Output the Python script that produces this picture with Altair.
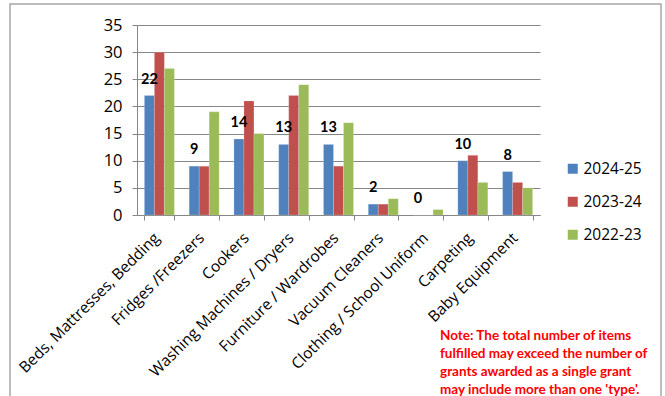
import altair as alt
import pandas as pd

categories = [
    "Beds, Mattresses, Bedding",
    "Fridges /Freezers",
    "Cookers",
    "Washing Machines / Dryers",
    "Furniture / Wardrobes",
    "Vacuum Cleaners",
    "Clothing / School Uniform",
    "Carpeting",
    "Baby Equipment",
]
years = ["2024-25", "2023-24", "2022-23"]
values_2024_25 = [22, 9, 14, 13, 13, 2, 0, 10, 8]
values_2023_24 = [30, 9, 21, 22, 9, 2, 0, 11, 6]
values_2022_23 = [27, 19, 15, 24, 17, 3, 1, 6, 5]
y_ticks = [0, 5, 10, 15, 20, 25, 30, 35]
colors = ["#4F81BD", "#C0504D", "#9BBB59"]
note_lines = [
    "Note: The total number of items",
    "fulfilled may exceed the number of",
    "grants awarded as a single grant",
    "may include more than one 'type'.",
]

FONT = "Open Sans"
BOLD_FONT = "Lato"

rows = []
for yr, vals in zip(years, [values_2024_25, values_2023_24, values_2022_23]):
    for cat, v in zip(categories, vals):
        rows.append({"Category": cat, "Year": yr, "Count": v})
df = pd.DataFrame(rows)

x_enc = alt.X(
    "Category:N",
    sort=categories,
    scale=alt.Scale(paddingInner=0.33, paddingOuter=0.165),
    axis=alt.Axis(
        title=None,
        labelAngle=-45,
        labelAlign="right",
        labelBaseline="top",
        labelFont=FONT,
        labelFontSize=15.5,
        labelColor="#000000",
        labelPadding=10,
        labelOffset=-8,
        labelLimit=0,
        labelOverlap=False,
        tickBand="extent",
        tickSize=5,
        tickColor="#868686",
        domainColor="#868686",
        grid=False,
    ),
)
y_enc = alt.Y(
    "Count:Q",
    scale=alt.Scale(domain=[0, 35]),
    axis=alt.Axis(
        title=None,
        values=y_ticks,
        labelOverlap=False,
        labelFont=FONT,
        labelFontSize=16.5,
        labelColor="#000000",
        labelPadding=10,
        tickSize=5,
        tickColor="#868686",
        domainColor="#868686",
        gridColor="#868686",
    ),
)
color_enc = alt.Color(
    "Year:N",
    sort=years,
    scale=alt.Scale(domain=years, range=colors),
    legend=alt.Legend(
        title=None,
        orient="none",
        legendX=428,
        legendY=136,
        symbolType="square",
        symbolSize=100,
        symbolStrokeWidth=0,
        labelFont=FONT,
        labelFontSize=15.5,
        labelColor="#000000",
        rowPadding=16,
        labelOffset=3,
    ),
)

bars = alt.Chart(df).mark_bar(stroke="#ffffff", strokeOpacity=0.35, strokeWidth=0.5).encode(
    x=x_enc,
    xOffset=alt.XOffset("Year:N", sort=years),
    y=y_enc,
    color=color_enc,
)

labels = (
    alt.Chart(df)
    .transform_filter(alt.datum.Year == "2024-25")
    .mark_text(font=BOLD_FONT, fontSize=14.5, fontWeight="bold", color="#000000", dy=-16)
    .encode(
        x=x_enc,
        xOffset=alt.XOffset("Year:N", sort=years),
        y=y_enc,
        text="Count:Q",
    )
)

note = (
    alt.Chart(pd.DataFrame({"note": ["\n".join(note_lines)]}))
    .mark_text(
        font=BOLD_FONT,
        fontSize=13.5,
        fontWeight="bold",
        color="#FF0000",
        align="left",
        baseline="top",
        lineBreak="\n",
        lineHeight=18,
    )
    .encode(x=alt.value(303), y=alt.value(304), text="note:N")
)

frame = (
    alt.Chart(pd.DataFrame({"k": [0]}))
    .mark_rect(fill=None, stroke="#A6A6A6", strokeWidth=1.5)
    .encode(x=alt.value(-127), x2=alt.value(524), y=alt.value(-21), y2=alt.value(420))
)

chart = (
    alt.layer(frame, bars, labels, note)
    .properties(
        width=403,
        height=190,
        padding={"left": 137, "top": 25, "right": 125, "bottom": 181},
        autosize=alt.AutoSizeParams(type="none"),
        background="#ffffff",
    )
    .configure_view(stroke=None)
)

chart.save("out.html", embed_options={"renderer": "svg", "actions": False})
